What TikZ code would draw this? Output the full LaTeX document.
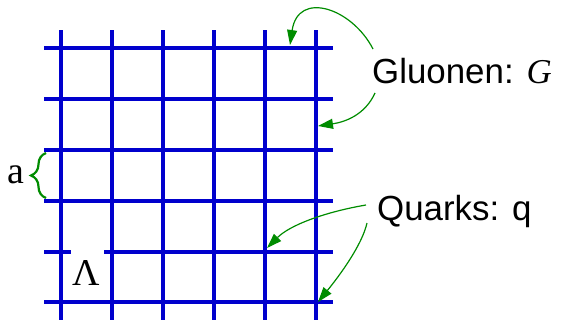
\documentclass[tikz,border=0pt]{standalone}
\usepackage{fontspec}
\setmainfont{Liberation Serif}
\setsansfont{Liberation Sans}
\usetikzlibrary{arrows.meta,decorations.pathreplacing}
\definecolor{gridblue}{RGB}{0,0,205}
\definecolor{arrgreen}{RGB}{0,140,0}
\begin{document}
\begin{tikzpicture}[x=1bp,y=1bp,
  gridline/.style={draw=gridblue,line width=3.5bp},
  pointer/.style={draw=arrgreen,line width=1.2bp,-{Triangle[length=15bp,width=10bp]}},
  lbl/.style={inner sep=0pt,font=\fontsize{35}{40}\selectfont},
  serlbl/.style={inner sep=0pt,font=\fontsize{38}{42}\selectfont}]
\useasboundingbox (0,0) rectangle (562,320);
% vertical lines
\foreach \x in {61,112,163,214,265,316}
  \draw[gridline] (\x,290) -- (\x,0);
% horizontal lines
\foreach \y in {272,221,170,119,18}
  \draw[gridline] (44,\y) -- (333,\y);
\draw[gridline] (44,68) -- (71,68);
\draw[gridline] (104,68) -- (333,68);
% labels
\node[lbl,anchor=base west] (glu) at (372,237) {\sffamily Gluonen: \rmfamily\itshape G};
\node[lbl,anchor=base west] (qua) at (377,100) {\sffamily Quarks: q};
\node[serlbl,anchor=base west] (aa) at (7,137) {a};
\node[serlbl,anchor=base west] (lam) at (72,35) {Λ};
% brace
\coordinate (b1) at (46,122);
\coordinate (b2) at (46,167);
\draw[arrgreen,line width=2.2bp,decorate,decoration={brace,amplitude=15bp}] (b1) -- (b2);
% arrow endpoints
\coordinate (g1s) at (373,271);
\coordinate (g1t) at (290,275);
\coordinate (g2s) at (375,227);
\coordinate (g2t) at (318,194);
\coordinate (q1s) at (366,115);
\coordinate (q1t) at (267,72);
\coordinate (q2s) at (367,97);
\coordinate (q2t) at (318,18);
\draw[pointer] (g1s) .. controls (352,312) and (298,330) .. (g1t);
\draw[pointer] (g2s) .. controls (365,205) and (345,198) .. (g2t);
\draw[pointer] (q1s) .. controls (325,108) and (290,95) .. (q1t);
\draw[pointer] (q2s) .. controls (362,75) and (340,45) .. (q2t);
\end{tikzpicture}
\end{document}
